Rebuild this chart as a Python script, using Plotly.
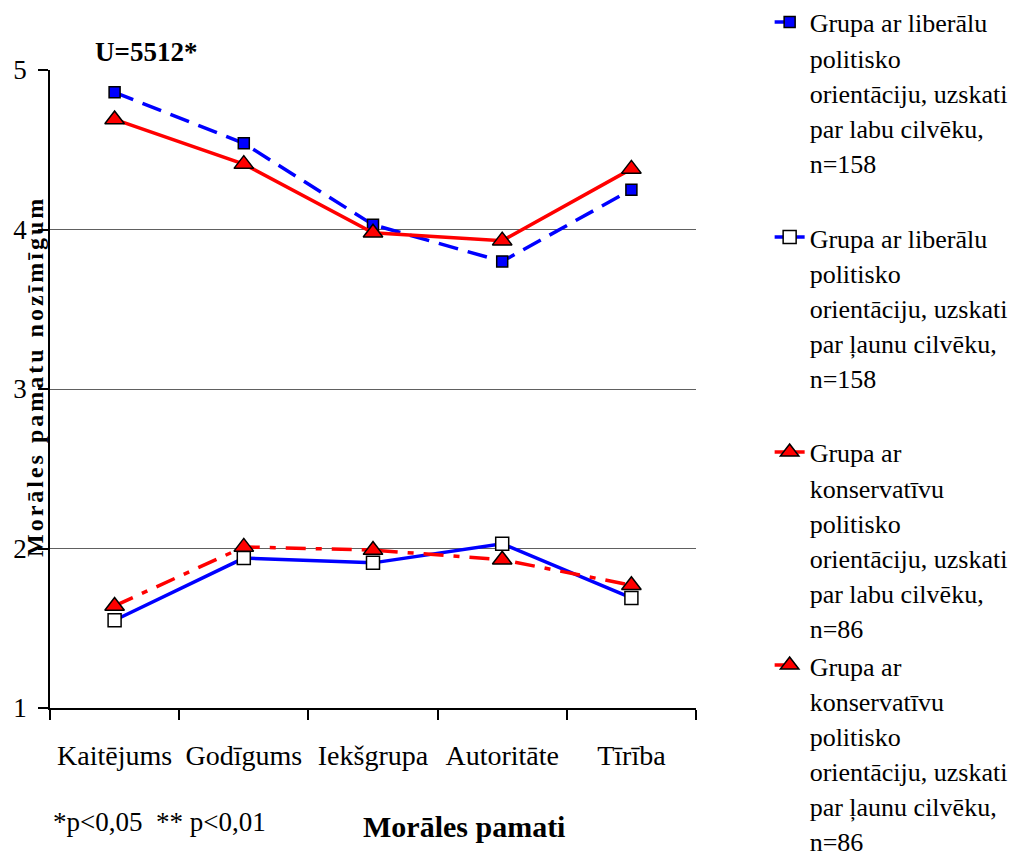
import plotly.graph_objects as go

categories = ["Kaitējums", "Godīgums", "Iekšgrupa", "Autoritāte", "Tīrība"]
lib_good = [4.86, 4.54, 4.03, 3.80, 4.25]
lib_bad = [1.55, 1.94, 1.91, 2.03, 1.69]
cons_good = [4.69, 4.41, 3.98, 3.93, 4.38]
cons_bad = [1.64, 2.01, 1.99, 1.93, 1.77]

names = [
    ["Grupa ar liberālu", "politisko", "orientāciju, uzskati", "par labu cilvēku,", "n=158"],
    ["Grupa ar liberālu", "politisko", "orientāciju, uzskati", "par ļaunu cilvēku,", "n=158"],
    ["Grupa ar", "konservatīvu", "politisko", "orientāciju, uzskati", "par labu cilvēku,", "n=86"],
    ["Grupa ar", "konservatīvu", "politisko", "orientāciju, uzskati", "par ļaunu cilvēku,", "n=86"],
]

def legend_name(lines):
    return "<br>".join('<span style="font-size:26px">%s</span>' % l for l in lines)

FONT = "Liberation Serif, Times New Roman, serif"
BLUE = "#0000FF"
RED = "#FF0000"

fig = go.Figure()
fig.add_trace(go.Scatter(
    x=categories, y=lib_good, name=legend_name(names[0]), mode="lines+markers", legend="legend",
    line=dict(color=BLUE, width=3.5, dash="20px,10px"),
    marker=dict(symbol="square", size=11, color=BLUE, line=dict(color="black", width=1.5)),
))
fig.add_trace(go.Scatter(
    x=categories, y=lib_bad, name=legend_name(names[1]), mode="lines+markers", legend="legend2",
    line=dict(color=BLUE, width=3.5),
    marker=dict(symbol="square", size=13, color="white", line=dict(color="black", width=1.5)),
))
fig.add_trace(go.Scatter(
    x=categories, y=cons_good, name=legend_name(names[2]), mode="lines+markers", legend="legend3",
    line=dict(color=RED, width=3.5),
    marker=dict(symbol="triangle-up", size=17, color=RED, line=dict(color="black", width=1.5)),
))
fig.add_trace(go.Scatter(
    x=categories, y=cons_bad, name=legend_name(names[3]), mode="lines+markers", legend="legend4",
    line=dict(color=RED, width=3.5, dash="20px,10px,6px,10px"),
    marker=dict(symbol="triangle-up", size=17, color=RED, line=dict(color="black", width=1.5)),
))

def leg(y):
    return dict(
        x=1.114, y=y, xanchor="left", yanchor="top",
        font=dict(family=FONT, size=27, color="black"),
        valign="top", bgcolor="rgba(0,0,0,0)",
    )

fig.update_layout(
    width=1009, height=850,
    margin=dict(l=42, r=321, t=62, b=150, autoexpand=False),
    plot_bgcolor="white", paper_bgcolor="white",
    font=dict(family=FONT, color="black"),
    showlegend=True,
    legend=leg(1.113), legend2=leg(0.776), legend3=leg(0.439), legend4=leg(0.105),
    xaxis=dict(
        type="category", range=[-0.5, 4.5], tickson="boundaries",
        showline=True, linecolor="black", linewidth=1.5,
        ticks="outside", ticklen=10, tickcolor="black", tickwidth=1.5,
        showgrid=False, tickfont=dict(family=FONT, size=28),
        ticklabelstandoff=22,
    ),
    yaxis=dict(
        range=[1, 5], tickvals=[1, 2, 3, 4, 5],
        showline=True, linecolor="black", linewidth=1.5,
        ticks="outside", ticklen=10, tickcolor="black", tickwidth=1.5,
        showgrid=True, gridcolor="#606060", gridwidth=1.2, zeroline=False,
        tickfont=dict(family=FONT, size=27), ticklabelstandoff=6,
    ),
    annotations=[
        dict(text="<b>U=5512*</b>", xref="paper", yref="paper", x=0.149, y=1.028,
             showarrow=False, font=dict(family=FONT, size=27), xanchor="center", yanchor="middle"),
        dict(text='<b><span style="letter-spacing:3px">Morāles pamatu nozīmīgum</span></b>',
             xref="paper", yref="paper", x=-0.023, y=0.519,
             textangle=-90, showarrow=False, font=dict(family=FONT, size=24),
             xanchor="center", yanchor="middle"),
        dict(text="*p&lt;0,05&nbsp;&nbsp;** p&lt;0,01", xref="paper", yref="paper", x=0.169, y=-0.179,
             showarrow=False, font=dict(family=FONT, size=27), xanchor="center", yanchor="middle"),
        dict(text="<b>Morāles pamati</b>", xref="paper", yref="paper", x=0.641, y=-0.185,
             showarrow=False, font=dict(family=FONT, size=30), xanchor="center", yanchor="middle"),
    ],
)

fig.write_html("out.html")
